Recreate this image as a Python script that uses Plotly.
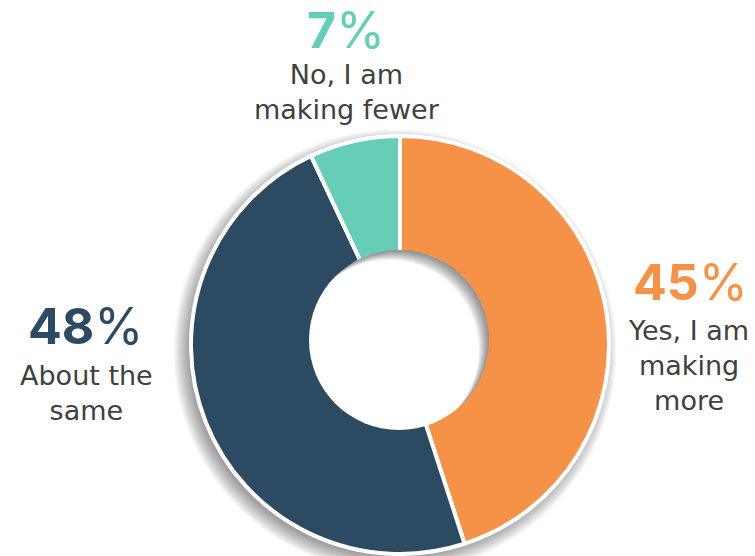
import numpy as np
import plotly.graph_objects as go

W, H = 755, 556

# Survey answers and shares (percent)
answers = ["Yes, I am making more", "About the same", "No, I am making fewer"]
shares = [45, 48, 7]
colors = ["#F59248", "#2D4A63", "#66CDB7"]

# Label blocks: percent headline plus wrapped caption lines
label_pct = ["45%", "48%", "7%"]
label_lines = [["Yes, I am", "making", "more"], ["About the", "same"], ["No, I am", "making fewer"]]

PCT_FONT = "Inter"
CAP_FONT = "DejaVu Sans"
TEXT_GREY = "#404040"

# ring geometry in pixels
CX, CY, R = 400, 345, 209
HX, HY, HR = 399, 340, 90


def px(x):
    return x / W


def py(y):
    return 1 - y / H


fig = go.Figure(
    go.Pie(
        labels=answers,
        values=shares,
        sort=False,
        direction="clockwise",
        rotation=0,
        hole=0,
        marker=dict(colors=colors, line=dict(color="white", width=4)),
        textinfo="none",
        hoverinfo="label+percent",
        domain=dict(x=[px(CX - R), px(CX + R)], y=[py(CY + R), py(CY - R)]),
        showlegend=False,
    )
)

shapes = []
# soft drop shadow under the ring (offset down-left)
for k in range(12):
    rr = R - 3 + k * 1.4
    sx, sy = CX - 5, CY + 6
    shapes.append(dict(
        type="circle", xref="paper", yref="paper", layer="below",
        x0=px(sx - rr), x1=px(sx + rr), y0=py(sy + rr), y1=py(sy - rr),
        fillcolor="rgba(0,0,0,0.035)", line=dict(width=0),
    ))

# white centre disc
shapes.append(dict(
    type="circle", xref="paper", yref="paper", layer="above",
    x0=px(HX - HR), x1=px(HX + HR), y0=py(HY + HR), y1=py(HY - HR),
    fillcolor="white", line=dict(width=0),
))


def crescent(cx, cy, r, dx, dy, n=60):
    """Part of circle (cx,cy,r) not covered by the same circle shifted by (dx,dy)."""
    d = np.hypot(dx, dy)
    ux, uy = dx / d, dy / d
    half = np.arccos(min(d / (2 * r), 1.0))
    base = np.arctan2(-uy, -ux)
    # arc on the original circle, facing away from the shift
    a1 = np.linspace(base - (np.pi - half), base + (np.pi - half), n)
    pts = [(cx + r * np.cos(a), cy + r * np.sin(a)) for a in a1]
    # arc back along the shifted circle
    a2 = np.linspace(base + half, base - half, n)
    pts += [(cx + dx + r * np.cos(a), cy + dy + r * np.sin(a)) for a in a2]
    path = "M " + " L ".join(f"{px(x):.5f},{py(y):.5f}" for x, y in pts) + " Z"
    return path


# inner shadow along the upper-right rim of the centre disc
for k in range(1, 13):
    dd = k * 1.2
    shapes.append(dict(
        type="path", xref="paper", yref="paper", layer="above",
        path=crescent(HX, HY, HR, -dd * 0.72, dd * 0.69),
        fillcolor="rgba(0,0,0,0.045)", line=dict(width=0),
    ))

annotations = []


def add_text(text, x, y, size, color, family):
    annotations.append(dict(
        text=text, x=px(x), y=py(y), xref="paper", yref="paper",
        xanchor="center", yanchor="middle", align="center", showarrow=False,
        font=dict(family=family, size=size, color=color),
    ))


# percent headlines
pct_pos = [(690, 282), (85, 326), (346, 30)]
for pct, (x, y), c in zip(label_pct, pct_pos, colors):
    add_text(f"<b>{pct[:-1]}</b>%", x, y, 50, c, PCT_FONT)

# caption blocks
cap_pos = [(688, 365), (86, 393), (347, 92)]
for lines, (x, y) in zip(label_lines, cap_pos):
    add_text("<br>".join(lines), x, y, 27, TEXT_GREY, CAP_FONT)

fig.update_layout(
    width=W, height=H,
    margin=dict(l=0, r=0, t=0, b=0),
    paper_bgcolor="white", plot_bgcolor="white",
    shapes=shapes, annotations=annotations,
)

fig.write_html("out.html")
